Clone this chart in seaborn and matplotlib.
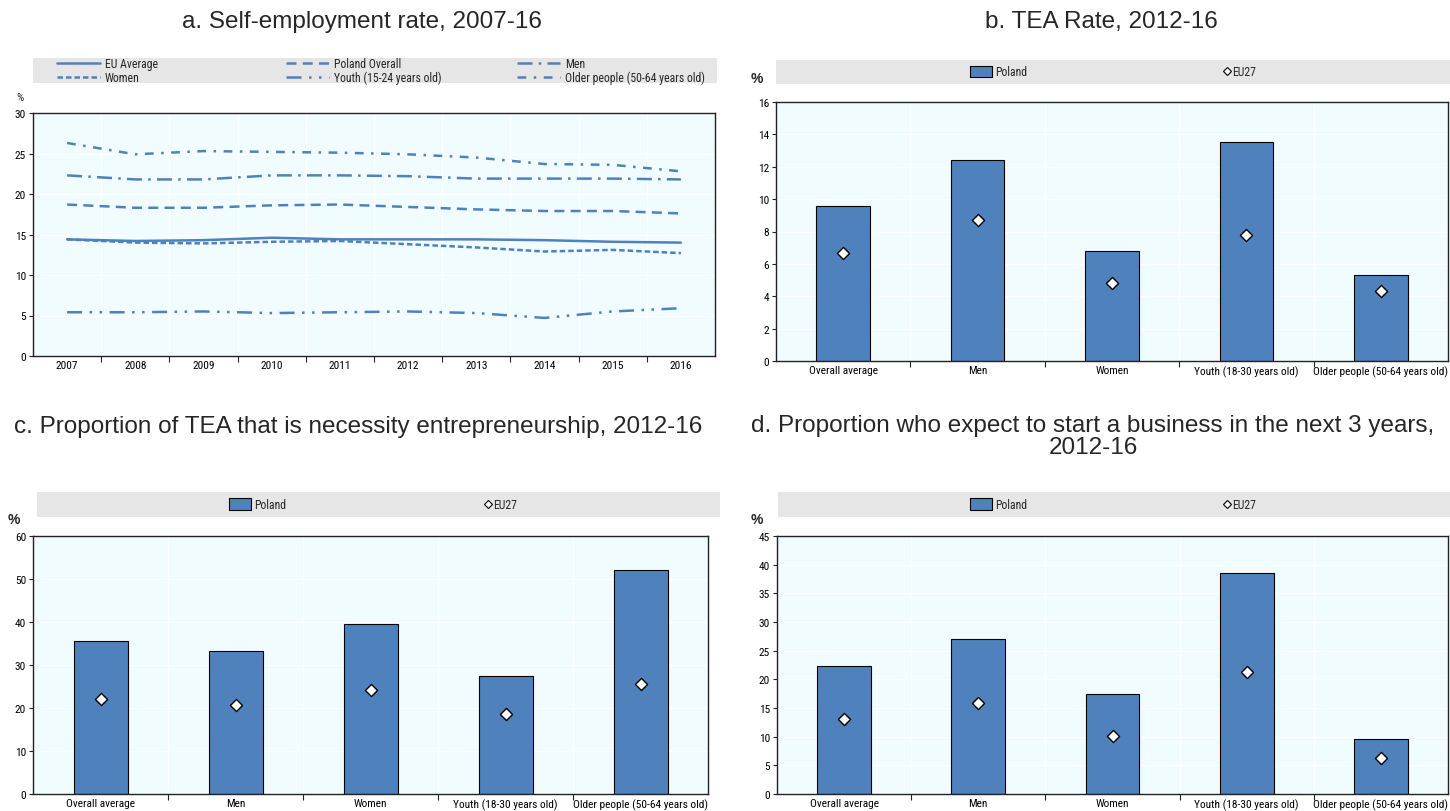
import numpy as np
import pandas as pd
import matplotlib
matplotlib.use('Agg')
import matplotlib.pyplot as plt
from matplotlib import font_manager
from matplotlib.lines import Line2D
from matplotlib.patches import Patch, Rectangle
from matplotlib.ticker import MultipleLocator, FixedLocator
import seaborn as sns

# panel a - self-employment rate
years = list(range(2007, 2017))
eu_average = [14.4, 14.2, 14.3, 14.6, 14.4, 14.4, 14.4, 14.3, 14.1, 14.0]
poland_overall = [18.7, 18.3, 18.3, 18.6, 18.7, 18.4, 18.1, 17.9, 17.9, 17.6]
men = [22.3, 21.8, 21.8, 22.3, 22.3, 22.2, 21.9, 21.9, 21.9, 21.8]
women = [14.4, 14.0, 13.9, 14.1, 14.2, 13.8, 13.4, 12.9, 13.1, 12.7]
youth = [5.4, 5.4, 5.5, 5.3, 5.4, 5.5, 5.3, 4.7, 5.5, 5.9]
older = [26.3, 24.9, 25.3, 25.2, 25.1, 24.9, 24.5, 23.7, 23.6, 22.8]
line_names = ['EU Average', 'Poland Overall', 'Men', 'Women',
              'Youth (15-24 years old)', 'Older people (50-64 years old)']

# panels b, c, d
categories = ['Overall average', 'Men', 'Women', 'Youth (18-30 years old)',
              'Older people (50-64 years old)']
tea_poland = [9.6, 12.4, 6.8, 13.5, 5.3]
tea_eu27 = [6.7, 8.7, 4.8, 7.8, 4.3]
necessity_poland = [35.5, 33.2, 39.6, 27.4, 52.1]
necessity_eu27 = [22.1, 20.8, 24.1, 18.5, 25.5]
expect_poland = [22.3, 27.1, 17.5, 38.6, 9.6]
expect_eu27 = [13.0, 15.9, 10.2, 21.3, 6.3]

BLUE = '#4F81BD'
BG = '#F0FCFF'
GREY = '#E6E6E6'
W, H = 1450, 812
TITLE_FONT = ['Liberation Sans', 'DejaVu Sans']
TITLE_SIZE = 17.5

# narrow font for the small labels if one is around
installed = {f.name for f in font_manager.fontManager.ttflist}
narrow = None
for cand in ['Liberation Sans Narrow', 'Arial Narrow', 'Roboto Condensed',
             'DejaVu Sans Condensed', 'Open Sans Condensed']:
    if cand in installed:
        narrow = cand
        break
if narrow:
    SMALL = 8.2
    LEG = 8.5
else:
    narrow = 'Liberation Sans'
    SMALL = 7.2
    LEG = 7.4

sns.set_theme(style='white')
plt.rcParams['font.family'] = [narrow, 'Liberation Sans', 'DejaVu Sans']
plt.rcParams['axes.linewidth'] = 1.0

fig = plt.figure(figsize=(W / 100, H / 100), dpi=100)


def box(l, t, r, b):
    return [l / W, 1 - b / H, (r - l) / W, (b - t) / H]


def grey_band(l, t, r, b):
    fig.patches.append(Rectangle((l / W, 1 - b / H), (r - l) / W, (b - t) / H,
                                 transform=fig.transFigure, facecolor=GREY,
                                 edgecolor='none', zorder=0))


def style_axes(ax):
    ax.set_facecolor(BG)
    for s in ax.spines.values():
        s.set_color('#222222')
        s.set_linewidth(1.0)
    ax.grid(True, which='major', axis='y', color='white', lw=1)
    ax.grid(True, which='minor', axis='x', color='white', lw=1)
    ax.set_axisbelow(True)
    ax.tick_params(axis='y', which='major', left=True, length=3, width=0.8,
                   color='#222222', labelsize=SMALL, pad=2, labelcolor='black')
    ax.tick_params(axis='x', which='major', bottom=True, length=0,
                   labelsize=SMALL, pad=3, labelcolor='black')
    ax.tick_params(axis='x', which='minor', bottom=True, length=4, width=0.8,
                   color='#222222')
    ax.set_xlabel('')
    ax.set_ylabel('')


fig.text(362 / W, 1 - 22 / H, 'a. Self-employment rate, 2007-16', ha='center',
         va='center', fontsize=TITLE_SIZE, family=TITLE_FONT)

# ---- panel a
ax_a = fig.add_axes(box(33, 114, 715, 357))
df_lines = pd.DataFrame({
    'year': years * 6,
    'value': eu_average + poland_overall + men + women + youth + older,
    'series': [n for n in line_names for _ in years],
})
dash_styles = {
    'EU Average': '',
    'Poland Overall': (4, 2.5),
    'Men': (6, 2.5, 1, 2.5),
    'Women': (2.2, 1.2),
    'Youth (15-24 years old)': (6, 3, 1, 3, 1, 3),
    'Older people (50-64 years old)': (3.5, 3, 1, 3),
}
sns.lineplot(data=df_lines, x='year', y='value', style='series',
             dashes=dash_styles, color=BLUE, lw=1.8, legend=False, ax=ax_a)
style_axes(ax_a)
ax_a.set_xlim(2006.5, 2016.5)
ax_a.set_ylim(0, 30)
ax_a.yaxis.set_major_locator(MultipleLocator(5))
ax_a.xaxis.set_major_locator(FixedLocator(years))
ax_a.xaxis.set_minor_locator(FixedLocator([y + 0.5 for y in years[:-1]]))
ax_a.set_xticklabels([str(y) for y in years])
ax_a.text(20 / W, 1 - 98 / H, '%', transform=fig.transFigure, ha='center',
          va='center', fontsize=SMALL)

grey_band(33, 59, 717, 84)
legend_cols = [(57, ['EU Average', 'Women']),
               (286, ['Poland Overall', 'Youth (15-24 years old)']),
               (517, ['Men', 'Older people (50-64 years old)'])]
for x0, names in legend_cols:
    handles = []
    for n in names:
        h = Line2D([], [], color=BLUE, lw=1.8)
        if dash_styles[n]:
            h.set_dashes(dash_styles[n])
        handles.append(h)
    fig.legend(handles, names, loc='center left',
               bbox_to_anchor=(x0 / W, 1 - 71.5 / H), frameon=False,
               fontsize=LEG, handlelength=3.6, handletextpad=0.45,
               borderpad=0, borderaxespad=0, labelspacing=0.05)


def bar_panel(rect, band, poland, eu27, ymax, step, pct_xy, legend_x):
    ax = fig.add_axes(box(*rect))
    sns.barplot(x=categories, y=poland, color=BLUE, width=0.4,
                edgecolor='black', linewidth=0.8, saturation=1, ax=ax)
    sns.scatterplot(x=np.arange(len(categories)), y=eu27, marker='D', s=38,
                    color='white', edgecolor='black', linewidth=1.0,
                    zorder=5, ax=ax)
    style_axes(ax)
    ax.set_xlim(-0.5, len(categories) - 0.5)
    ax.set_ylim(0, ymax)
    ax.yaxis.set_major_locator(MultipleLocator(step))
    ax.xaxis.set_minor_locator(FixedLocator(np.arange(len(categories) - 1) + 0.5))
    ax.text(pct_xy[0] / W, 1 - pct_xy[1] / H, '%', transform=fig.transFigure,
            ha='center', va='center', fontsize=10, fontweight='bold',
            family=TITLE_FONT)
    grey_band(*band)
    yc = 1 - (band[1] + band[3]) / 2 / H
    fig.legend([Patch(facecolor=BLUE, edgecolor='black', lw=0.8)], ['Poland'],
               loc='center left', bbox_to_anchor=(legend_x[0] / W, yc),
               frameon=False, fontsize=LEG, handlelength=1.9, handleheight=1.1,
               handletextpad=0.2, borderpad=0, borderaxespad=0)
    fig.legend([Line2D([], [], marker='D', ls='none', markersize=4.5,
                       markerfacecolor='white', markeredgecolor='black',
                       markeredgewidth=0.8)], ['EU27'],
               loc='center left', bbox_to_anchor=(legend_x[1] / W, yc),
               frameon=False, fontsize=LEG, handlelength=0.6,
               handletextpad=0.2, borderpad=0, borderaxespad=0)
    return ax


fig.text(1101 / W, 1 - 22 / H, 'b. TEA Rate, 2012-16', ha='center',
         va='center', fontsize=TITLE_SIZE, family=TITLE_FONT)
bar_panel((776, 103, 1448, 362), (776, 61, 1450, 85), tea_poland, tea_eu27,
          16, 2, (757, 79), (970, 1223))

fig.text(358 / W, 1 - 427 / H,
         'c. Proportion of TEA that is necessity entrepreneurship, 2012-16',
         ha='center', va='center', fontsize=TITLE_SIZE, family=TITLE_FONT)
bar_panel((33, 537, 708, 795), (37, 493, 720, 518), necessity_poland,
          necessity_eu27, 60, 10, (14, 520), (229, 484))

fig.text(1093 / W, 1 - 437 / H,
         'd. Proportion who expect to start a business in the next 3 years,\n2012-16',
         ha='center', va='center', fontsize=TITLE_SIZE, linespacing=1.0,
         family=TITLE_FONT)
bar_panel((777, 537, 1448, 795), (778, 493, 1450, 518), expect_poland,
          expect_eu27, 45, 5, (757, 520), (970, 1223))

fig.savefig('out.png', dpi=100)
